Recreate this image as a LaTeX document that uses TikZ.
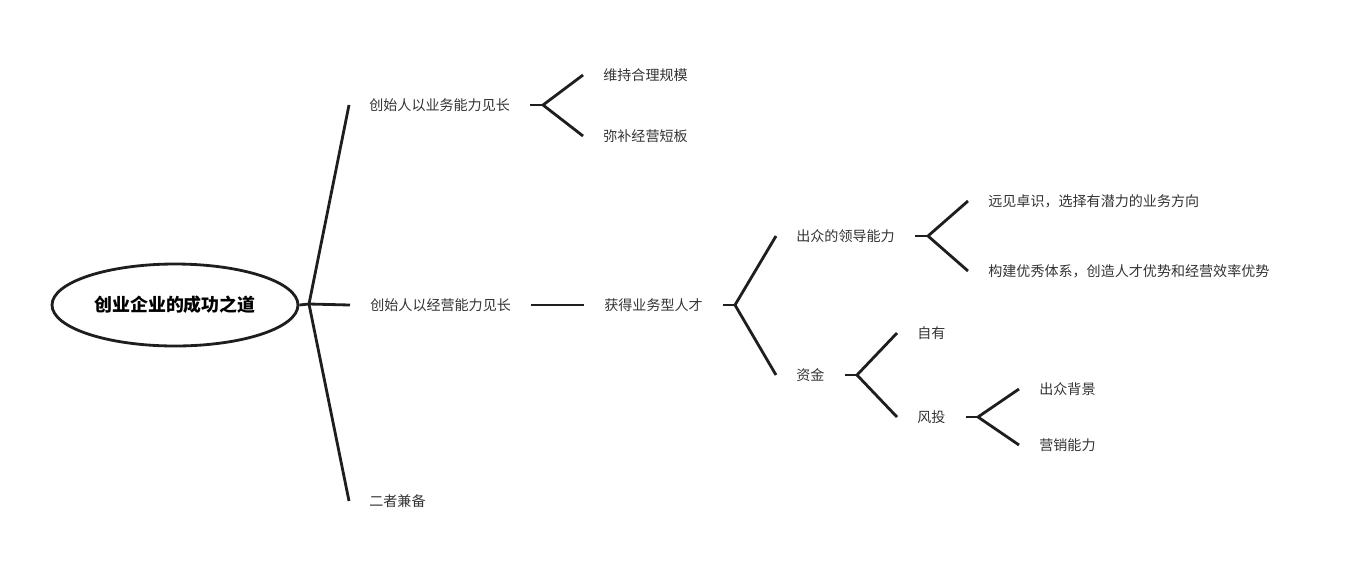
\documentclass[tikz,border=0pt]{standalone}
\usepackage{fontspec}
\newfontfamily\cjk{Noto Sans CJK SC}
\usetikzlibrary{shapes.geometric}
\definecolor{ink}{HTML}{1E1E1E}
\definecolor{txt}{HTML}{333333}
\begin{document}
\begin{tikzpicture}[x=0.02cm,y=-0.02cm,
		branch/.style={draw=ink,line width=1.6pt},
		label/.style={anchor=west,inner xsep=0.4cm,inner ysep=0pt,text=txt,font=\cjk\fontsize{8pt}{10pt}\selectfont}]
				\useasboundingbox (0,0) rectangle (1346,576);
				\node[ellipse,draw=ink,line width=1.6pt,minimum width=4.92cm,minimum height=1.64cm,inner sep=0pt,font=\cjk\bfseries\fontsize{10.2pt}{12pt}\selectfont] (root) at (175,305) {创业企业的成功之道};
				\node[label] (a) at (349,105) {创始人以业务能力见长};
				\node[label] (b) at (350,305) {创始人以经营能力见长};
				\node[label] (c) at (349,501) {二者兼备};
				\node[label] (a1) at (583,75) {维持合理规模};
				\node[label] (a2) at (583,136) {弥补经营短板};
				\node[label] (b1) at (584,305) {获得业务型人才};
				\node[label] (d) at (776,236) {出众的领导能力};
				\node[label] (e) at (776,375) {资金};
				\node[label] (d1) at (968,201) {远见卓识，选择有潜力的业务方向};
				\node[label] (d2) at (968,271) {构建优秀体系，创造人才优势和经营效率优势};
				\node[label] (e1) at (897,333) {自有};
				\node[label] (e2) at (897,417) {风投};
				\node[label] (f1) at (1019,389) {出众背景};
				\node[label] (f2) at (1019,445) {营销能力};
				\coordinate (j0) at (309,304);
				\coordinate (ja) at (543,105);
				\coordinate (jb) at (735,305);
				\coordinate (jd) at (928,236);
				\coordinate (je) at (857,375);
				\coordinate (jf) at (978,417);
				\draw[branch] (root.east) -- (j0);
				\draw[branch] (j0) -- (a.west);
				\draw[branch] (j0) -- (b.west);
				\draw[branch] (j0) -- (c.west);
				\draw[branch] (a.east) -- (ja);
				\draw[branch] (ja) -- (a1.west);
				\draw[branch] (ja) -- (a2.west);
				\draw[branch] (b.east) -- (b1.west);
				\draw[branch] (b1.east) -- (jb);
				\draw[branch] (jb) -- (d.west);
				\draw[branch] (jb) -- (e.west);
				\draw[branch] (d.east) -- (jd);
				\draw[branch] (jd) -- (d1.west);
				\draw[branch] (jd) -- (d2.west);
				\draw[branch] (e.east) -- (je);
				\draw[branch] (je) -- (e1.west);
				\draw[branch] (je) -- (e2.west);
				\draw[branch] (e2.east) -- (jf);
				\draw[branch] (jf) -- (f1.west);
				\draw[branch] (jf) -- (f2.west);
			\end{tikzpicture}
\end{document}
